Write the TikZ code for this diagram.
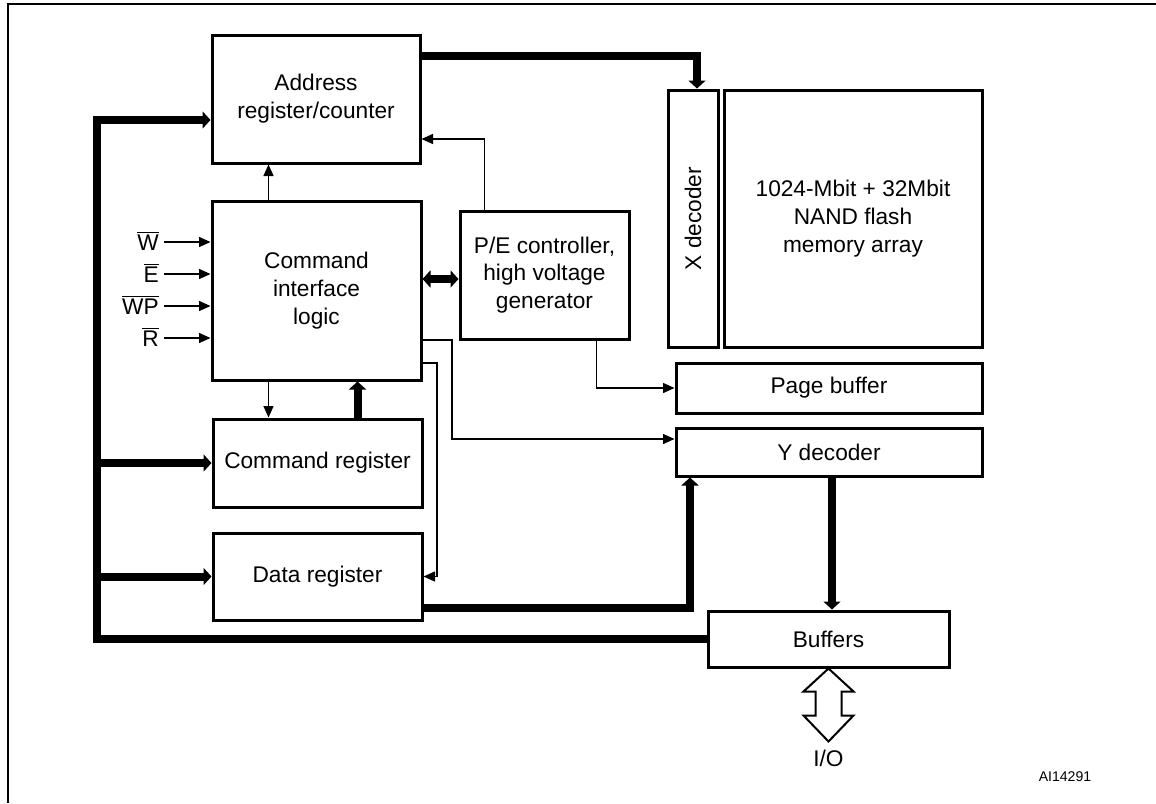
\documentclass[tikz,border=0pt]{standalone}
\usepackage{fontspec}
\setmainfont{Liberation Sans}
\usetikzlibrary{arrows.meta,positioning}
\newcommand\pxu{0.2mm}
\newcommand\barsig[1]{$\overline{\hbox{#1}}$}

\begin{document}
\begin{tikzpicture}[x=0.2mm,y=-0.2mm,font=\fontsize{12.9}{15.8}\selectfont,
    blk/.style={draw,line width=0.6mm,align=center,inner sep=0pt},
    sig/.style={line width=0.28mm,-{Triangle[length=2.3mm,width=2mm]}},
    bus/.style={line width=1.6mm,-{Triangle[length=1.6mm,width=3.4mm]}},
    busboth/.style={line width=1.6mm,{Triangle[length=1.6mm,width=3.4mm]}-{Triangle[length=1.6mm,width=3.4mm]}},
    frame/.style={line width=0.45mm}]
        \useasboundingbox (0,0) rectangle (1156,803);
        \draw[frame] (8,803) -- (8,4) -- (1156,4);

        % blocks
        \node[blk,minimum width=208*\pxu,minimum height=128*\pxu] (addr) at (316,99) {Address\\register/counter};
        \node[blk,minimum width=209*\pxu,minimum height=179*\pxu] (cil) at (316.5,290.5) {Command\\interface\\logic};
        \node[blk,minimum width=169*\pxu,minimum height=128*\pxu] (pe) at (544.5,275) {P/E controller,\\high voltage\\generator};
        \node[blk,minimum width=50*\pxu,minimum height=257*\pxu] (xdec) at (693,218.5) {\rotatebox{90}{X decoder}};
        \node[blk,minimum width=258*\pxu,minimum height=257*\pxu] (mem) at (853,218.5) {1024-Mbit + 32Mbit\\NAND flash\\memory array};
        \node[blk,minimum width=306*\pxu,minimum height=50*\pxu] (pbuf) at (829,388) {Page buffer};
        \node[blk,minimum width=306*\pxu,minimum height=48*\pxu] (ydec) at (829,452) {Y decoder};
        \node[blk,minimum width=209*\pxu,minimum height=88*\pxu] (cmd) at (317.5,463) {Command register};
        \node[blk,minimum width=209*\pxu,minimum height=87*\pxu] (data) at (317.5,576.5) {Data register};
        \node[blk,minimum width=241*\pxu,minimum height=56*\pxu] (buf) at (828.5,639) {Buffers};

        % control inputs
        \foreach \s/\y in {W/242,E/274,WP/306,R/338}{
          \node[anchor=base east,inner sep=0pt] (in\s) at (159,\y+8) {\barsig{\s}};
          \coordinate (w\s) at (164,\y);
          \draw[sig] (w\s) -- (w\s -| cil.west);
        }

        % thin control lines
        \draw[sig] ([xshift=-48*\pxu]cil.north) coordinate (t1) -- (t1 |- addr.south);
        \draw[sig] ([xshift=-60*\pxu]pe.north) |- ([yshift=-40*\pxu]addr.east);
        \draw[sig] ([xshift=52*\pxu]pe.south) |- (pbuf.west);
        \coordinate (ky) at (452,340);
        \draw[sig] (cil.east |- ky) -- (ky) |- ([yshift=13*\pxu]ydec.west);
        \coordinate (kd) at (437,363);
        \draw[sig] (cil.east |- kd) -- (kd) |- (data.east);
        \draw[sig] ([xshift=-48*\pxu]cil.south) coordinate (t2) -- (t2 |- cmd.north);

        % buses
        \coordinate (bustop) at (97,120);
        \draw[bus] (buf.west) -| (bustop) -- (bustop -| addr.west);
        \draw[bus] (bustop |- cmd) -- (cmd.west);
        \draw[bus] (bustop |- data) -- (data.west);
        \draw[bus] ([yshift=43*\pxu]addr.east) -| ([xshift=4*\pxu]xdec.north);
        \draw[busboth] ([yshift=11.5*\pxu]cil.east) -- ([yshift=-4*\pxu]pe.west);
        \draw[bus] ([xshift=40*\pxu]cmd.north) coordinate (t3) -- (t3 |- cil.south);
        \draw[bus] ([yshift=-31*\pxu]data.east) -| ([xshift=-139*\pxu]ydec.south);
        \draw[bus] ([xshift=3*\pxu]ydec.south) coordinate (t4) -- (t4 |- buf.north);

        % I/O port
        \draw[line width=0.4mm,shift={(buf.south)}] (0,0) -- (25,23) -- (13,23) -- (13,47) -- (25,47) -- (0,73)
          -- (-25,47) -- (-13,47) -- (-13,23) -- (-25,23) -- cycle;
        \node (io) at (828.5,758) {I/O};
        \node[font=\fontsize{8}{9.6}\selectfont] (code) at (1065,777) {AI14291};
      \end{tikzpicture}
\end{document}
